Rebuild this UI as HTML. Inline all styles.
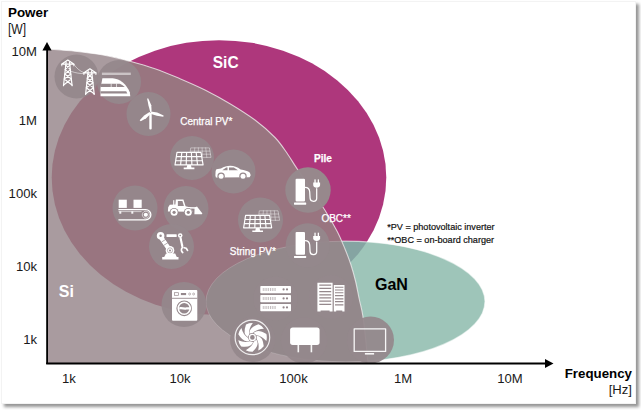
<!DOCTYPE html>
<html>
<head>
<meta charset="utf-8">
<title>Power vs Frequency</title>
<style>
html,body{margin:0;padding:0;background:#fff;}
body{width:641px;height:410px;overflow:hidden;position:relative;font-family:"Liberation Sans",Arial,sans-serif;}
#card{position:absolute;left:1px;top:1px;width:634.5px;height:402.5px;background:#fff;border:1px solid #f3f3f3;box-sizing:border-box;box-shadow:3px 3px 3px rgba(0,0,0,.42);}
svg{position:absolute;left:0;top:0;}
text{font-family:"Liberation Sans",Arial,sans-serif;}
.ax{font-size:13.1px;fill:#1a1a1a;}
.b{font-weight:bold;}
.w{fill:#fff;}
.lbl{font-size:10px;fill:#fff;stroke:#fff;stroke-width:.25px;}
.fn{font-size:9.1px;fill:#111;stroke:#111;stroke-width:.2px;}
.c{fill:#95888c;fill-opacity:.93;}
.i{fill:#fff;}
.s{stroke:#fff;fill:none;stroke-linecap:round;stroke-linejoin:round;}
.d{fill:#95888c;}
.ds{stroke:#95888c;fill:none;}
</style>
</head>
<body>
<div id="card"></div>
<svg width="641" height="410" viewBox="0 0 641 410">
<defs>
<clipPath id="plot"><rect x="47" y="30" width="560" height="333.5"/></clipPath>
<path id="siShape" d="M47.0,49.0 C51.7,49.4 65.7,50.2 75.0,51.2 C84.3,52.2 93.8,53.3 103.0,55.0 C112.2,56.7 121.3,58.9 130.0,61.2 C138.7,63.5 146.7,65.8 155.0,68.7 C163.3,71.6 171.7,75.2 180.0,78.7 C188.3,82.2 196.7,85.8 205.0,90.0 C213.3,94.2 221.7,98.7 230.0,103.7 C238.3,108.7 247.5,114.4 255.0,120.0 C262.5,125.6 269.6,131.9 275.0,137.5 C280.4,143.1 283.9,148.7 287.4,153.7 C290.9,158.7 292.4,161.7 296.2,167.4 C300.0,173.1 305.3,181.0 310.0,188.0 C314.7,195.0 319.9,202.2 324.5,209.5 C329.1,216.8 334.1,225.4 337.5,232.0 C340.9,238.6 342.8,243.7 345.0,249.0 C347.2,254.3 348.9,258.7 350.7,264.0 C352.4,269.3 354.1,275.3 355.5,281.0 C356.9,286.7 357.8,292.3 359.0,298.0 C360.2,303.7 361.6,308.3 362.7,315.0 C363.8,321.7 364.6,329.8 365.5,338.0 C366.4,346.2 367.6,359.7 368.0,364.0 L47,364 Z"/>
<ellipse id="sic" cx="219" cy="177.6" rx="167.3" ry="137.4"/>
<ellipse id="gan" cx="345.5" cy="301.5" rx="139.5" ry="60.3"/>
<clipPath id="siClip"><use href="#siShape"/></clipPath>
<clipPath id="ganClip"><use href="#gan"/></clipPath>
</defs>
<g clip-path="url(#plot)">
<use href="#sic" fill="#ae377c"/>
<use href="#gan" fill="#9ec5b9"/>
<g clip-path="url(#ganClip)"><use href="#sic" fill="#85a4a2"/></g>
<use href="#gan" fill="none" stroke="#fff" stroke-opacity=".55" stroke-width="1.3"/>
<use href="#siShape" fill="#a99b9f"/>
<g clip-path="url(#siClip)">
<use href="#sic" fill="#997580"/>
<use href="#gan" fill="#93888b" stroke="#fff" stroke-opacity=".18" stroke-width="1"/>
</g>
<use href="#siShape" fill="none" stroke="#fff" stroke-opacity=".65" stroke-width="1.1"/>
</g>
<!-- icon discs -->
<g clip-path="url(#plot)">
<circle class="c" cx="76.5" cy="76.5" r="22"/>
<circle class="c" cx="119" cy="82" r="22"/>
<circle class="c" cx="148.5" cy="114" r="22"/>
<circle class="c" cx="192" cy="158" r="22"/>
<circle class="c" cx="233.5" cy="171.5" r="22"/>
<circle class="c" cx="308" cy="190" r="22.7" style="fill:#968a8d;fill-opacity:.98"/>
<circle class="c" cx="260.5" cy="220" r="22.5"/>
<circle class="c" cx="307.7" cy="245.3" r="22"/>
<circle class="c" cx="135" cy="208" r="22.5"/>
<circle class="c" cx="186" cy="208.5" r="22.5"/>
<circle class="c" cx="171.5" cy="246.5" r="22.5"/>
<circle class="c" cx="184" cy="304.5" r="22.5"/>
<circle class="c" cx="275.5" cy="298.5" r="22"/>
<circle class="c" cx="331" cy="297" r="22"/>
<circle class="c" cx="252.5" cy="339.5" r="22.5"/>
<circle class="c" cx="304" cy="340.5" r="23"/>
<circle class="c" cx="370.5" cy="340" r="23.5"/>
</g>
<!-- icons -->
<defs><g id="pylon" class="s" stroke-width="1.2">
<path d="M0,0 L-6.3,4.1 L6.3,4.1 Z"/>
<path d="M-6,4.3 v1.5 M6,4.3 v1.5" stroke-width=".9"/>
<path d="M-1.7,2 L-4.3,25.6 M1.7,2 L4.3,25.6"/>
<path d="M-2.1,5 L2.7,9.5 L-3.1,14 L3.6,19 L-4.2,25 M2.1,5 L-2.7,9.5 L3.1,14 L-3.6,19 L4.2,25"/>
</g></defs>
<use href="#pylon" x="67.8" y="60.1"/>
<use href="#pylon" x="89.9" y="68.8"/>
<path class="s" stroke-width=".8" stroke-opacity=".65" d="M73.8,64.4 C77,68.5 80,71.3 83.8,72.6 M71,71.3 C75.5,73 80,73.7 84.3,73.6"/>
<rect x="101.9" y="72.6" width="28.9" height="2.4" fill="#fff" fill-opacity=".5"/>
<path class="i" d="M100.5,96.2 L100.5,88 L102.4,78.2 L112.6,78.2 C120,78.6 126.8,84.6 129.8,92.3 L130.3,96.2 Z"/>
<path class="d" d="M101.2,83.7 L119.8,83.7 C121.8,84.6 123.6,85.9 124.8,87.1 L100.6,87.1 Z"/>
<path d="M111.2,83.5 V87.3 M116.5,83.5 V87.3" stroke="#fff" stroke-width=".8" stroke-opacity=".8"/>
<path class="d" d="M100.5,91.3 L126.2,91.3 L127.3,93.5 L100.5,93.5 Z"/>
<path class="i" d="M150.3,112.2 L148.5,105.5 L147.1,98.6 L148.3,98.5 L151.3,105.3 L151.6,111.6 Z"/>
<path class="i" d="M150.8,111.6 L157.2,112.6 L163.6,115.5 L163.3,116.7 L156.8,115.8 L150.4,113.8 Z"/>
<path class="i" d="M149.5,112 L144.2,115.4 L139.7,120.2 L140.7,121.2 L146.2,118.2 L151,113.6 Z"/>
<rect class="i" x="149.3" y="113" width="2.4" height="16.6" rx="1"/>
<path class="s" stroke-width="0.7" stroke-opacity="0.6" d="M191.1,147.9 L209.4,147.9 L211.0,157.4 L189.8,157.4 Z M194.8,147.9 L194.0,157.4 M198.4,147.9 L198.3,157.4 M202.1,147.9 L202.5,157.4 M205.7,147.9 L206.8,157.4 M190.7,151.1 L209.9,151.1 M190.2,154.2 L210.5,154.2"/>
<path class="c" style="fill-opacity:1" d="M176.5,151.9 L201.5,151.9 L203.6,165.4 L174.5,165.4 Z"/>
<path class="s" stroke-width="1.15" stroke-opacity="1.0" d="M177.0,152.4 L201.0,152.4 L203.1,164.9 L175.0,164.9 Z M181.8,152.4 L180.6,164.9 M186.6,152.4 L186.2,164.9 M191.4,152.4 L191.9,164.9 M196.2,152.4 L197.5,164.9 M176.3,156.6 L201.7,156.6 M175.7,160.7 L202.4,160.7"/>
<path class="i" d="M187.3,165 L190.9,165 L191.5,167.6 L194.4,167.6 L194.4,169.2 L183.7,169.2 L183.7,167.6 L186.7,167.6 Z"/>
<path class="s" stroke-width="0.7" stroke-opacity="0.6" d="M259.7,210.8 L278.0,210.8 L279.6,220.3 L258.4,220.3 Z M263.4,210.8 L262.6,220.3 M267.0,210.8 L266.9,220.3 M270.7,210.8 L271.1,220.3 M274.3,210.8 L275.4,220.3 M259.3,214.0 L278.5,214.0 M258.8,217.1 L279.1,217.1"/>
<path class="c" style="fill-opacity:1" transform="translate(68.6 62.9)" d="M176.5,151.9 L201.5,151.9 L203.6,165.4 L174.5,165.4 Z"/>
<path class="s" stroke-width="1.15" stroke-opacity="1.0" d="M245.6,215.3 L269.6,215.3 L271.7,227.8 L243.6,227.8 Z M250.4,215.3 L249.2,227.8 M255.2,215.3 L254.8,227.8 M260.0,215.3 L260.5,227.8 M264.8,215.3 L266.1,227.8 M244.9,219.5 L270.3,219.5 M244.3,223.6 L271.0,223.6"/>
<path class="i" transform="translate(68.6 62.9)" d="M187.3,165 L190.9,165 L191.5,167.6 L194.4,167.6 L194.4,169.2 L183.7,169.2 L183.7,167.6 L186.7,167.6 Z"/>
<path class="i" d="M215.4,175.6 L215.6,171 L216.4,169.2 L221,168.6 C224,166.6 227,165.8 230.2,165.8 C234.2,165.8 237.2,167 240.6,169.5 C244.5,170 248,171 249.9,172.7 L250.7,175.3 L249.6,177.2 L215.9,177.4 Z"/>
<path class="d" d="M222.3,170.2 L226.2,167.6 L227.5,167.5 L227.5,170.2 Z M229,167.4 L233.8,167.5 L238,170.2 L229,170.2 Z"/>
<circle class="d" cx="221.1" cy="176.3" r="3.7"/><circle class="i" cx="221.1" cy="176.3" r="2.5"/>
<circle class="d" cx="243" cy="176.3" r="3.7"/><circle class="i" cx="243" cy="176.3" r="2.5"/>
<defs><g id="charger">
<rect class="i" x="0" y="0" width="9.4" height="22.8" rx="1.1"/>
<rect class="i" x="-1.6" y="23.9" width="12.2" height="2.1" rx=".4"/>
<path class="s" stroke-width="1.25" d="M9.4,8.6 C12.3,8.6 13.9,10.2 14.1,13 L14.5,19.6 C14.7,23.6 21.1,23.6 21.1,19.6 L21.1,10"/>
<path class="i" d="M17.6,3.9 h6.9 v2.4 c0,3.5 -6.9,3.5 -6.9,0 Z"/>
<rect class="i" x="18.8" y="0.7" width="1.3" height="3.6"/><rect class="i" x="22.1" y="0.7" width="1.3" height="3.6"/>
</g></defs>
<use href="#charger" x="295.6" y="178.7"/>
<use href="#charger" x="295.6" y="232"/>
<rect class="i" x="118.7" y="199.7" width="8.1" height="8.2"/><rect class="i" x="133.5" y="199.7" width="8.2" height="8.2"/>
<path class="s" stroke-width="1.3" d="M118.9,209.7 L145.8,209.7 A5.05,5.05 0 0 1 145.8,219.8 L118.9,219.8"/>
<rect class="i" x="119.3" y="211.3" width="2" height="2.4" fill-opacity=".9"/><rect class="i" x="131.3" y="211.3" width="2" height="2.4" fill-opacity=".9"/>
<path class="s" stroke-width=".7" stroke-opacity=".8" d="M118.9,211.6 L141.2,211.6"/>
<circle class="i" cx="145.8" cy="214.75" r="2.1"/><circle class="s" cx="145.8" cy="214.75" r="3.5" stroke-width=".8" stroke-dasharray="1 .8" stroke-opacity=".8"/>
<path class="i" d="M167.9,211.6 L168.2,207.2 L169.8,204.8 L175.4,204.5 L175.8,199.4 L183.4,199.4 L185.6,206.3 L190.6,207.4 L192.8,211.8 Z"/>
<path class="d" d="M177.9,201 L182.4,201 L183.9,205.9 L177.9,205.9 Z"/>
<rect class="i" x="173.2" y="200.2" width="1.1" height="4.8"/>
<path class="s" stroke-width="1.4" d="M186,207.6 L196,208"/>
<path class="i" d="M194.6,207.4 L197,206.5 L202.4,213.4 L201.8,214.2 L194.4,214.2 Z"/>
<circle class="d" cx="174.1" cy="212.3" r="4.4"/><circle class="i" cx="174.1" cy="212.3" r="3.5"/><circle class="d" cx="174.1" cy="212.3" r="1.6"/>
<circle class="d" cx="188.3" cy="212.3" r="4.4"/><circle class="i" cx="188.3" cy="212.3" r="3.5"/><circle class="d" cx="188.3" cy="212.3" r="1.6"/>
<path class="s" stroke-width="4.6" stroke-linecap="butt" d="M161.6,238.2 L169,249"/>
<path class="ds" stroke-width=".7" d="M161.6,242 L166,239.2 M163.8,245.3 L168.2,242.5"/>
<circle class="i" cx="160.6" cy="235.7" r="3.8"/><circle class="d" cx="160.6" cy="235.7" r="1.2"/>
<rect class="i" x="166.5" y="234.3" width="10.2" height="2.7" rx=".5"/>
<circle class="i" cx="180.2" cy="235.5" r="2.3"/><circle class="d" cx="180.2" cy="235.5" r=".8"/>
<circle class="i" cx="170" cy="250.4" r="4.3"/><circle class="ds" cx="170" cy="250.4" r="2.6" stroke-width=".6"/><circle class="d" cx="170" cy="250.4" r="1"/>
<path class="i" d="M166,253.6 L175.2,253.6 L176.8,257 L178.5,257 L178.5,259.4 L162.2,259.4 L162.2,257 L164.2,257 Z"/>
<path class="s" stroke-width="2.2" stroke-linecap="butt" stroke-dasharray="2.3 .7" d="M180.6,238.2 L182.4,246.8"/>
<path class="s" stroke-width="1.7" d="M182.4,247.6 C180.9,249 181.1,251.4 182.7,252.5 M184.2,247.7 L186.2,248.2 L187.5,250.4"/>
<rect class="i" x="172" y="290.1" width="25.3" height="30.6" rx="1"/>
<path class="ds" stroke-width=".9" d="M172,298.3 H197.3"/>
<rect class="ds" x="174.6" y="292.7" width="4" height="2.6" stroke-width=".7"/>
<rect class="d" x="180.9" y="293" width="5.2" height="2.1"/>
<circle class="ds" cx="189.6" cy="294" r="1" stroke-width=".6"/><circle class="ds" cx="193.6" cy="294" r="1" stroke-width=".6"/>
<circle class="ds" cx="184.2" cy="308.3" r="7.3" stroke-width="1.1"/>
<circle class="d" cx="184.2" cy="308.3" r="5.2"/>
<path class="i" d="M179.2,307.6 C181.5,306.2 184,308.2 186.5,307.3 L191.2,307.3 L191.2,309.6 L186.5,309.6 C184,310.4 181.5,308.6 179.2,309.8 Z"/>
<rect class="i" x="260.3" y="286" width="30.7" height="7.2" rx=".8"/>
<path class="ds" stroke-width="3" stroke-opacity=".6" stroke-dasharray=".9 .9" d="M262.8,289.6 H276"/>
<circle class="d" cx="283.6" cy="289.4" r="1.1"/><circle class="d" cx="287" cy="289.4" r="1.1"/>
<rect class="i" x="260.3" y="295" width="30.7" height="7.2" rx=".8"/>
<path class="ds" stroke-width="3" stroke-opacity=".6" stroke-dasharray=".9 .9" d="M262.8,298.6 H276"/>
<circle class="d" cx="283.6" cy="298.4" r="1.1"/><circle class="d" cx="287" cy="298.4" r="1.1"/>
<rect class="i" x="260.3" y="304" width="30.7" height="7.2" rx=".8"/>
<path class="ds" stroke-width="3" stroke-opacity=".6" stroke-dasharray=".9 .9" d="M262.8,307.6 H276"/>
<circle class="d" cx="283.6" cy="307.4" r="1.1"/><circle class="d" cx="287" cy="307.4" r="1.1"/>
<path class="i" d="M317.4,282.8 H332.6 V311.6 H329.6 V310.4 H320.6 V311.6 H317.4 Z"/>
<path class="i" d="M333.8,285 H344.5 V311.6 H342.3 V310.4 H336.2 V311.6 H333.8 Z"/>
<path class="ds" stroke-width="1.2" d="M319.3,285.2 H331.2 M319.3,288.4 H331.2 M319.3,291.6 H331.2 M319.3,294.9 H331.2 M319.3,297.9 H331.2 M319.3,301.2 H331.2 M319.3,304.4 H331.2"/>
<path class="ds" stroke-width="1.1" d="M335,287.3 H343.4 M335,290.0 H343.4 M335,292.8 H343.4 M335,295.6 H343.4 M335,298.9 H343.4 M335,301.6 H343.4 M335,304.9 H343.4"/>
<circle class="s" cx="252.4" cy="337.4" r="17.3" stroke-width="1.2" stroke-opacity=".85"/>
<defs><path id="blade" class="i" d="M4.27,-1.72 Q10.40,-1.46 11.35,8.87 A14.4,14.4 0 0 1 5.86,13.16 Q7.28,6.11 4.27,1.72 Z"/></defs>
<use href="#blade" transform="translate(252.4 337.4) rotate(0.00)"/>
<use href="#blade" transform="translate(252.4 337.4) rotate(51.43)"/>
<use href="#blade" transform="translate(252.4 337.4) rotate(102.86)"/>
<use href="#blade" transform="translate(252.4 337.4) rotate(154.29)"/>
<use href="#blade" transform="translate(252.4 337.4) rotate(205.71)"/>
<use href="#blade" transform="translate(252.4 337.4) rotate(257.14)"/>
<use href="#blade" transform="translate(252.4 337.4) rotate(308.57)"/>
<circle class="s" cx="252.4" cy="337.4" r="3" stroke-width="1.4"/>
<rect class="i" x="290.1" y="327.5" width="29.5" height="17.4" rx="2.6"/>
<rect class="i" x="297.5" y="344.5" width="1.6" height="7.8" fill-opacity=".92"/><rect class="i" x="310.6" y="344.5" width="1.6" height="7.8" fill-opacity=".92"/>
<rect class="s" x="354.2" y="328.8" width="31.4" height="22.6" stroke-width="1.3" stroke-opacity=".92" stroke-linejoin="miter"/>
<rect class="i" x="364.9" y="353" width="9.2" height="1.6" fill-opacity=".92"/>
<!-- axes -->
<path d="M47.1,364 L47.1,48" stroke="#000" stroke-width="1.8" fill="none"/>
<path d="M46.2,363.5 L547,363.5" stroke="#000" stroke-width="1.9" fill="none"/>
<path d="M47,42 L51.6,50.5 L42.4,50.5 Z" fill="#000"/>
<path d="M553.5,363.5 L545,359 L545,368 Z" fill="#000"/>
<!-- labels -->
<text x="8" y="16.8" class="ax b" style="fill:#000;font-size:13.4px">Power</text>
<text x="7.9" y="34" class="ax" style="font-size:14.6px" textLength="18.1" lengthAdjust="spacingAndGlyphs">[W]</text>
<text x="37" y="56" class="ax" text-anchor="end">10M</text>
<text x="37" y="124.5" class="ax" text-anchor="end">1M</text>
<text x="37" y="198.4" class="ax" text-anchor="end">100k</text>
<text x="37" y="271.4" class="ax" text-anchor="end">10k</text>
<text x="37" y="344.4" class="ax" text-anchor="end">1k</text>
<text x="69" y="383.3" class="ax" text-anchor="middle">1k</text>
<text x="180" y="383.3" class="ax" text-anchor="middle">10k</text>
<text x="293.5" y="383.3" class="ax" text-anchor="middle">100k</text>
<text x="403" y="383.3" class="ax" text-anchor="middle">1M</text>
<text x="510" y="383.3" class="ax" text-anchor="middle">10M</text>
<text x="632" y="377.5" class="ax b" text-anchor="end" style="font-size:13.3px;fill:#000">Frequency</text>
<text x="632" y="393.5" class="ax" text-anchor="end">[Hz]</text>
<text x="212.8" y="68.1" class="b w" style="font-size:17.3px" textLength="25.8" lengthAdjust="spacingAndGlyphs">SiC</text>
<text x="58.8" y="297.4" class="b w" style="font-size:16px">Si</text>
<text x="375" y="290" class="b" style="font-size:16px" fill="#000">GaN</text>
<text x="180.2" y="125.3" class="lbl">Central PV*</text>
<text x="229.8" y="254.9" class="lbl">String PV*</text>
<text x="321.4" y="222.2" class="lbl">OBC**</text>
<text x="314" y="161.7" class="lbl b">Pile</text>
<text x="387.2" y="230" class="fn">*PV = photovoltaic inverter</text>
<text x="387.2" y="242.8" class="fn">**OBC = on-board charger</text>
</svg>
</body>
</html>
